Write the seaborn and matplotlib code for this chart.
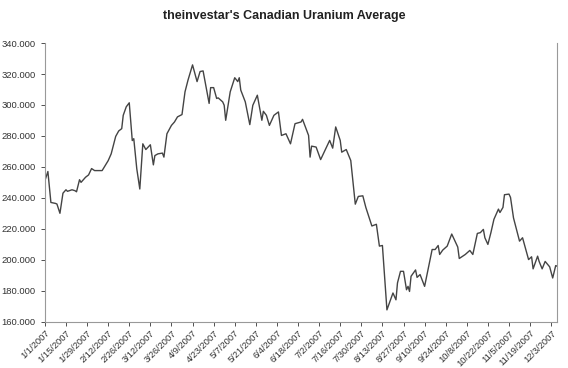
import matplotlib
matplotlib.use("Agg")
import matplotlib.pyplot as plt
from matplotlib.ticker import FuncFormatter
import matplotlib.dates as mdates
import seaborn as sns
import pandas as pd

# days since 1/1/2007 and index value
days = [0, 2, 4, 7, 8, 10, 12, 14, 15, 18, 20, 21, 23, 24, 27, 29, 31, 33, 38, 40,
        42, 44, 47, 49, 51, 52, 54, 56, 58, 59, 61, 63, 65, 67, 70, 72, 73, 75, 78, 79,
        81, 84, 86, 88, 91, 93, 95, 98, 101, 103, 105, 109, 110, 112, 114, 115, 118, 119, 120, 123,
        126, 128, 129, 130, 133, 136, 138, 141, 144, 145, 147, 149, 152, 155, 157, 160, 163, 166, 170, 171,
        175, 176, 177, 180, 183, 189, 191, 193, 196, 197, 200, 203, 206, 208, 211, 213, 217, 220, 222, 224,
        227, 231, 233, 234, 236, 238, 240, 241, 242, 243, 246, 247, 249, 252, 257, 259, 261, 262, 264, 267,
        270, 274, 275, 279, 282, 284, 287, 289, 291, 292, 294, 296, 298, 301, 302, 304, 305, 308, 309, 311,
        315, 317, 321, 323, 324, 327, 328, 330, 332, 335, 337, 339, 340]
values = [251.0, 257.0, 237.0, 236.4, 236.0, 230.0, 243.0, 245.2, 244.2, 245.2, 244.6, 243.9, 251.7, 250.0, 253.3, 254.8, 258.9, 257.6, 257.6, 260.8,
          264.0, 268.4, 279.7, 283.2, 284.7, 293.3, 298.8, 301.4, 277.0, 278.2, 258.7, 245.7, 274.9, 271.2, 274.3, 261.3, 267.3, 268.4, 268.9, 266.3,
          281.4, 286.8, 289.0, 292.3, 293.8, 308.5, 316.1, 325.9, 315.1, 321.6, 322.0, 301.0, 311.2, 311.2, 304.2, 304.6, 302.0, 299.8, 290.1, 308.5,
          317.6, 315.1, 317.6, 309.6, 302.0, 287.3, 299.8, 306.3, 290.1, 295.9, 293.3, 286.8, 293.3, 295.5, 280.3, 281.4, 274.9, 287.9, 289.0, 290.7,
          280.3, 266.3, 273.4, 272.8, 264.7, 277.1, 272.1, 285.8, 277.1, 269.5, 271.2, 264.1, 235.9, 240.9, 241.3, 233.8, 221.8, 222.9, 208.8, 209.2,
          167.6, 178.5, 174.1, 185.0, 192.5, 192.5, 180.6, 182.8, 179.5, 189.3, 193.4, 188.6, 190.4, 182.8, 206.6, 206.6, 209.2, 203.4, 206.2, 208.8,
          216.6, 208.2, 200.8, 203.4, 206.0, 203.4, 217.0, 217.5, 219.6, 214.2, 209.9, 217.5, 226.1, 232.7, 230.5, 233.8, 242.0, 242.4, 240.3, 227.0,
          212.0, 214.2, 200.1, 201.9, 194.1, 202.3, 198.9, 194.1, 198.9, 195.4, 188.2, 196.2, 195.8]

start = pd.Timestamp("2007-01-01")
df = pd.DataFrame({"Date": start + pd.to_timedelta(days, unit="D"), "Average": values})

sns.set_style("ticks")
plt.rcParams["font.family"] = ["Liberation Sans", "DejaVu Sans"]

fig = plt.figure(figsize=(5.68, 3.68), dpi=100)
ax = fig.add_axes([0.079, 0.126, 0.902, 0.757])

sns.lineplot(data=df, x="Date", y="Average", color="#444444", linewidth=1.0, ax=ax)

ax.set_xlim(start, pd.Timestamp("2007-12-07"))
ax.set_ylim(160, 340)
ax.set_yticks(range(160, 341, 20))
ax.yaxis.set_major_formatter(FuncFormatter(lambda v, p: f"{v:.3f}"))

ax.set_xticks(pd.date_range("2007-01-01", "2007-12-03", freq="14D"))
ax.xaxis.set_major_formatter(FuncFormatter(
    lambda v, p: "{d.month}/{d.day}/{d.year}".format(d=mdates.num2date(v))))
plt.setp(ax.get_xticklabels(), rotation=45, ha="right", rotation_mode="anchor")

ax.tick_params(axis="both", labelsize=6.8, colors="#333333", length=3, width=0.6)
ax.tick_params(axis="x", labelsize=6.7, pad=2)
for side in ["left", "bottom", "right"]:
    ax.spines[side].set_color("#999999")
    ax.spines[side].set_linewidth(0.8)
ax.spines["top"].set_visible(False)
ax.set_xlabel("")
ax.set_ylabel("")

fig.text(0.5, 0.957, "theinvestar's Canadian Uranium Average", ha="center", va="center",
         fontsize=9, fontweight="bold", color="#222222")

fig.savefig("out.png", dpi=100)
